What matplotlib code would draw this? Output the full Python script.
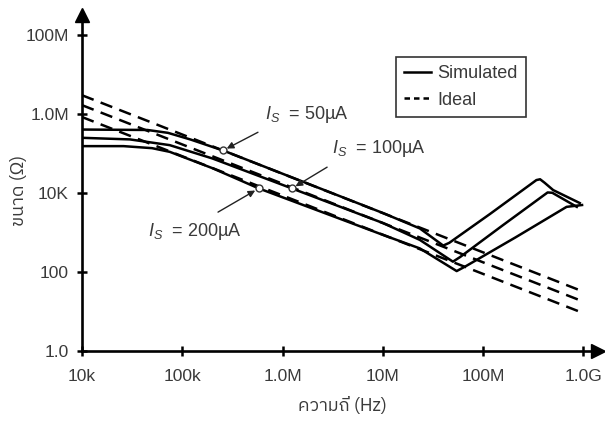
import numpy as np
import matplotlib
matplotlib.use('Agg')
import matplotlib.pyplot as plt
from matplotlib import font_manager
from matplotlib.ft2font import FT2Font
from matplotlib.lines import Line2D

# --- 1. Values ---
# ideal 1/(2*pi*f*C) lines, two end points each
freq_ideal = [1.0e4, 9.2e8]
z_ideal_50 = [2.96e6, 34.0]
z_ideal_100 = [1.66e6, 19.0]
z_ideal_200 = [8.3e5, 9.7]

# simulated curves
freq_50 = [1.0e4, 4.5e4, 7.2e4, 1.2e5, 2.6e5, 1.0e7, 2.34e7, 4.0e7, 4.6e7, 1.17e8, 3.4e8, 3.7e8, 4.1e8, 5.0e8, 9.2e8]
z_50 = [4.0e5, 3.9e5, 3.3e5, 2.25e5, 1.16e5, 3.08e3, 1.25e3, 4.6e2, 5.4e2, 2.9e3, 2.1e4, 2.2e4, 1.8e4, 1.17e4, 5.5e3]

freq_100 = [1.0e4, 3.0e4, 7.5e4, 2.0e5, 1.24e6, 1.0e7, 2.34e7, 5.0e7, 5.9e7, 1.57e8, 4.4e8, 4.9e8, 8.6e8]
z_100 = [2.47e5, 2.25e5, 1.61e5, 7.4e4, 1.29e4, 1.72e3, 6.4e2, 1.8e2, 2.36e2, 1.5e3, 1.02e4, 1.0e4, 4.4e3]

freq_200 = [1.0e4, 2.6e4, 5.0e4, 7.5e4, 2.0e5, 5.8e5, 1.0e7, 2.34e7, 5.45e7, 6.75e7, 2.12e8, 6.8e8, 9.7e8]
z_200 = [1.52e5, 1.52e5, 1.35e5, 1.09e5, 4.2e4, 1.29e4, 8.6e2, 3.9e2, 1.04e2, 1.39e2, 7.5e2, 4.4e3, 4.9e3]

# where the open circles sit on each curve
marker_freq = {'50': 2.55e5, '100': 1.24e6, '200': 5.8e5}

x_ticks = [1e4, 1e5, 1e6, 1e7, 1e8, 1e9]
x_labels = ['10k', '100k', '1.0M', '10M', '100M', '1.0G']
y_ticks = [1, 1e2, 1e4, 1e6, 1e8]
y_labels = ['1.0', '100', '10K', '1.0M', '100M']


# --- 2. Fonts: Liberation Sans for Latin, some installed font for Thai ---
def thai_family():
    names = []
    for fe in font_manager.fontManager.ttflist:
        try:
            cmap = FT2Font(fe.fname).get_charmap()
        except Exception:
            continue
        if 0x0E02 in cmap and 0x0E16 in cmap:
            names.append(fe.name)
    for n in names:
        if 'Sans' in n and 'Mono' not in n:
            return n
    return names[0] if names else 'DejaVu Sans'


THAI = thai_family()
plt.rcParams['font.family'] = ['Liberation Sans', 'DejaVu Sans']
plt.rcParams['mathtext.fontset'] = 'custom'
plt.rcParams['mathtext.rm'] = 'Liberation Sans'
plt.rcParams['mathtext.it'] = 'Liberation Sans:italic'

TEXT = '#3a3a3a'

# --- 3. Figure ---
fig = plt.figure(figsize=(6.05, 4.21), dpi=100)
ax = fig.add_axes([0.1355, 0.167, 0.853, 0.797])
ax.set_xscale('log')
ax.set_yscale('log')
ax.set_xlim(1e4, 1.4e9)
ax.set_ylim(1, 3.16e8)

dash = (5, 3)
for z in (z_ideal_50, z_ideal_100, z_ideal_200):
    ax.plot(freq_ideal, z, color='black', lw=1.8, dashes=dash)

curves = {'50': (freq_50, z_50), '100': (freq_100, z_100), '200': (freq_200, z_200)}
for f, z in curves.values():
    ax.plot(f, z, color='black', lw=1.8, solid_joinstyle='round')

# open circle markers and their labels
marker_pt = {}
for key, (f, z) in curves.items():
    fm = marker_freq[key]
    zm = 10 ** np.interp(np.log10(fm), np.log10(f), np.log10(z))
    marker_pt[key] = (fm, zm)
    ax.plot(fm, zm, 'o', ms=5, mfc='white', mec='#333333', mew=1.0, zorder=5)

labels = {
    '50': (r'$I_S$  = 50µA', (0.355, 0.705), (0.341, 0.651)),
    '100': (r'$I_S$  = 100µA', (0.484, 0.604), (0.475, 0.547)),
    '200': (r'$I_S$  = 200µA', (0.128, 0.354), (0.2636, 0.413)),
}
for key, (txt, txt_pos, tail) in labels.items():
    ax.text(txt_pos[0], txt_pos[1], txt, transform=ax.transAxes, ha='left', va='center',
            fontsize=13, color=TEXT)
    ax.annotate('', xy=marker_pt[key], xycoords='data', xytext=tail, textcoords='axes fraction',
                arrowprops=dict(arrowstyle='-|>', color='#222222', lw=1.0,
                                shrinkA=0, shrinkB=3, mutation_scale=10))

# axes with arrows
for s in ('top', 'right'):
    ax.spines[s].set_visible(False)
for s in ('left', 'bottom'):
    ax.spines[s].set_linewidth(1.9)
ax.plot(1, 0, '>', color='black', ms=10, transform=ax.transAxes, clip_on=False)
ax.plot(0, 1, '^', color='black', ms=10, transform=ax.transAxes, clip_on=False)

ax.set_xticks(x_ticks)
ax.set_xticklabels(x_labels)
ax.set_yticks(y_ticks)
ax.set_yticklabels(y_labels)
ax.minorticks_off()
ax.tick_params(axis='both', direction='inout', length=7, width=1.8, labelsize=12.5,
               labelcolor=TEXT)
ax.tick_params(axis='x', pad=10)
ax.tick_params(axis='y', pad=6)

fig.text(342 / 605, 1 - 406 / 421, 'ความถี่ (Hz)', ha='center', va='center', fontsize=13,
         color=TEXT, family=[THAI, 'Liberation Sans', 'DejaVu Sans'])
fig.text(19 / 605, 1 - 190 / 421, 'ขนาด (Ω)', ha='center', va='center', rotation=90,
         fontsize=13, color=TEXT, family=[THAI, 'Liberation Sans', 'DejaVu Sans'])

# legend
handles = [Line2D([], [], color='black', lw=1.8),
           Line2D([], [], color='black', lw=1.8, dashes=(2.2, 1.6))]
leg = ax.legend(handles, ['Simulated', 'Ideal'], loc='upper left', bbox_to_anchor=(0.608, 0.876),
                borderaxespad=0, fontsize=13, handlelength=1.5, handletextpad=0.35,
                labelspacing=0.55, borderpad=0.45, fancybox=False, framealpha=1)
leg.get_frame().set_edgecolor('#333333')
leg.get_frame().set_linewidth(1.2)
for t in leg.get_texts():
    t.set_color(TEXT)

fig.savefig('out.png', dpi=100)
